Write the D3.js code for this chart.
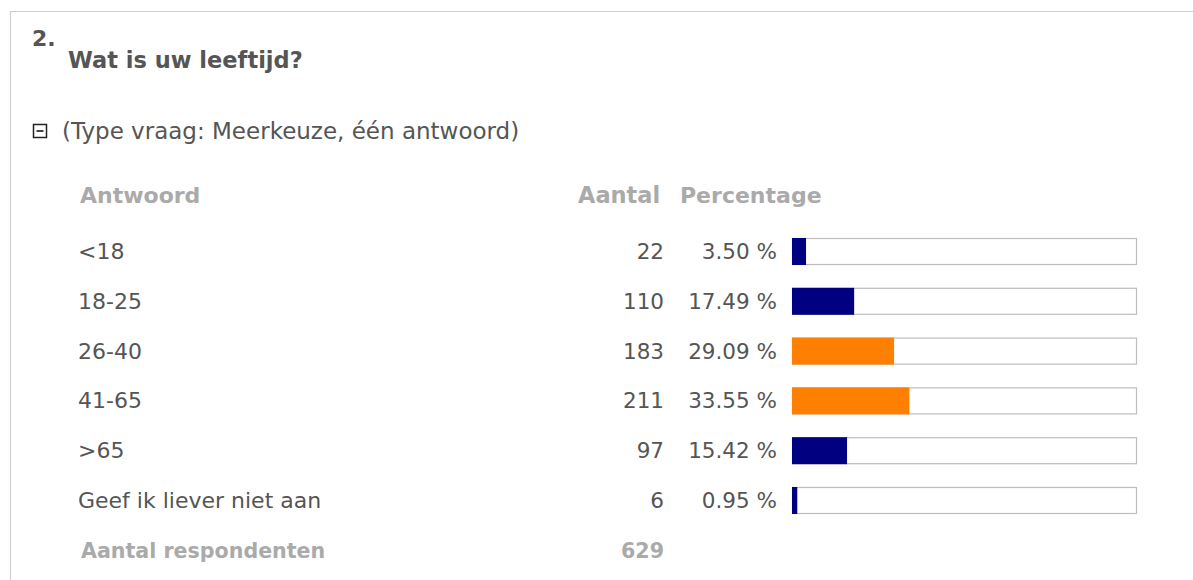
<!DOCTYPE html>
<html><head><meta charset="utf-8">
<script src="https://cdn.jsdelivr.net/npm/d3@7"></script>
<style>
html,body{margin:0;padding:0;background:#fff;}
svg text{font-family:"DejaVu Sans",Verdana,sans-serif;}
</style></head>
<body>
<svg id="c" width="1193" height="580"></svg>
<script>
const questionNumber = "2.";
const questionTitle = "Wat is uw leeftijd?";
const questionType = "(Type vraag: Meerkeuze, één antwoord)";
const headers = ["Antwoord", "Aantal", "Percentage"];
const categories = ["<18", "18-25", "26-40", "41-65", ">65", "Geef ik liever niet aan"];
const counts = [22, 110, 183, 211, 97, 6];
const percentages = [3.50, 17.49, 29.09, 33.55, 15.42, 0.95];
const highlighted = [false, false, true, true, false, false];
const totalLabel = "Aantal respondenten";
const totalCount = 629;

const svg = d3.select("#c");
const textDark = "#555555", textGray = "#aaaaaa";

// frame
svg.append("path").attr("d","M10.5,580 V11.5 H1193").attr("fill","none").attr("stroke","#cfcfcf").attr("stroke-width",1.2);

svg.append("text").attr("x",32).attr("y",46).attr("font-size",22).attr("font-weight","bold").attr("fill",textDark).text(questionNumber);
svg.append("text").attr("x",68).attr("y",68).attr("font-size",22.5).attr("font-weight","bold").attr("fill",textDark).text(questionTitle);

// collapse icon
svg.append("rect").attr("x",33.5).attr("y",124.5).attr("width",13).attr("height",13).attr("fill","#fff").attr("stroke","#222").attr("stroke-width",1.5);
svg.append("line").attr("x1",36.5).attr("x2",43.5).attr("y1",131).attr("y2",131).attr("stroke","#222").attr("stroke-width",1.7);
svg.append("text").attr("x",62).attr("y",139).attr("font-size",23).attr("fill",textDark).text(questionType);

// headers
const colCountRight = 664, colPctRight = 777;
svg.append("text").attr("x",80).attr("y",203).attr("font-size",22).attr("font-weight","bold").attr("fill",textGray).text(headers[0]);
svg.append("text").attr("x",578).attr("y",203).attr("font-size",22.5).attr("font-weight","bold").attr("fill",textGray).text(headers[1]);
svg.append("text").attr("x",680).attr("y",203).attr("font-size",22).attr("font-weight","bold").attr("fill",textGray).text(headers[2]);

const y = d3.scalePoint().domain(categories).range([251, 500]);
const x = d3.scaleLinear().domain([0, 100]).range([0, 344]);
const barX = 792, barH = 26;

const rows = svg.selectAll("g.row").data(categories.map((c,i)=>({c, n:counts[i], p:percentages[i], h:highlighted[i]})))
  .join("g").attr("class","row").attr("transform", d=>`translate(0,${y(d.c)})`);

rows.append("text").attr("x",78).attr("y",8).attr("font-size",22).attr("fill",textDark).text(d=>d.c);
rows.append("text").attr("x",colCountRight).attr("y",8).attr("text-anchor","end").attr("font-size",21.5).attr("fill",textDark).text(d=>d.n);
rows.append("text").attr("x",colPctRight).attr("y",8).attr("text-anchor","end").attr("font-size",21.5).attr("fill",textDark).text(d=>d.p.toFixed(2)+" %");
rows.append("rect").attr("x",barX+0.5).attr("y",-barH/2+0.5).attr("width",x(100)).attr("height",barH)
  .attr("fill","#fff").attr("stroke","#bdbdbd").attr("stroke-width",1.2);
rows.append("rect").attr("x",barX).attr("y",-barH/2).attr("width",d=>Math.max(5,x(d.p)+2)).attr("height",barH+1)
  .attr("fill",d=>d.h?"#ff8000":"#000080");

svg.append("text").attr("x",81).attr("y",558).attr("font-size",20.6).attr("font-weight","bold").attr("fill",textGray).text(totalLabel);
svg.append("text").attr("x",colCountRight).attr("y",558).attr("text-anchor","end").attr("font-size",20.6).attr("font-weight","bold").attr("fill",textGray).text(totalCount);
</script>
</body></html>
